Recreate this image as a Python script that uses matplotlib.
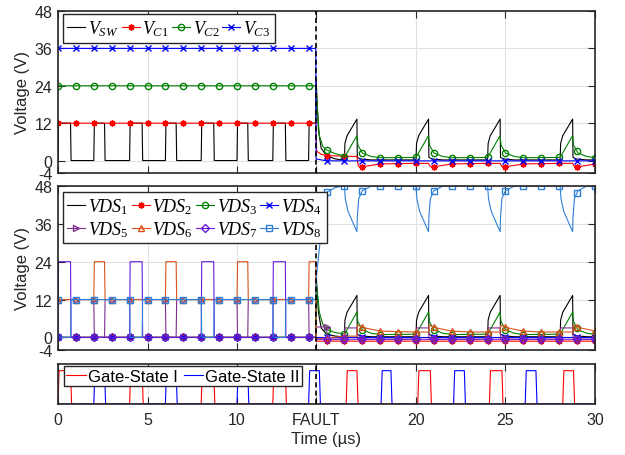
import numpy as np
import matplotlib.pyplot as plt

plt.rcParams['font.family'] = 'Liberation Sans'
plt.rcParams['mathtext.fontset'] = 'custom'
plt.rcParams['mathtext.it'] = 'Liberation Serif:italic'
plt.rcParams['mathtext.rm'] = 'Liberation Serif'
plt.rcParams['axes.unicode_minus'] = False

## Time axis ------------------------------------------------------------------
t_fault = 14.4  # us
t_end = 30.0
xtick_pos = [0, 5, 10, t_fault, 20, 25, 30]
xtick_lbl = ['0', '5', '10', 'FAULT', '20', '25', '30']
ytick_pos = [-4, 0, 12, 24, 36, 48]

## Gate pulses [us] -------------------------------------------------------------
gate1_on = [0.0, 4.0, 8.0, 12.0, 16.1, 20.1, 24.1, 28.2]
gate1_off = [0.7, 4.7, 8.7, 12.7, 16.7, 20.8, 24.8, 28.8]
gate2_on = [2.0, 6.0, 10.0, 14.0, 18.05, 22.1, 26.1]
gate2_off = [2.6, 6.6, 10.6, 14.6, 18.6, 22.7, 26.7]

## Post-fault spikes (start times + shape) --------------------------------------
spike_t = [16.0, 20.0, 24.0, 28.05]
sw_dt = [0.0, 0.03, 0.15, 0.7, 0.72, 0.9, 1.5]
sw_v = [0.2, 5.5, 8.0, 13.3, 1.0, 0.5, 0.2]
c2_dt = [0.0, 0.7, 0.75, 1.0, 1.5, 2.0]
c2_v = [1.0, 8.0, 5.0, 2.4, 1.3, 0.9]
c1_dt = [0.0, 0.7, 0.78, 1.0, 2.0]
c1_v = [-0.9, -0.9, -1.8, -2.0, -1.1]
d8_dt = [0.0, 0.05, 0.2, 0.7, 0.72, 0.8, 1.0, 1.5]
d8_v = [48.0, 44.0, 40.0, 33.5, 38.0, 44.0, 46.5, 48.0]
d5_dt = [0.0, 0.03, 0.7, 0.73]
d5_v = [-0.6, 3.0, 3.0, -0.6]
d6_dt = [0.0, 0.7, 0.73, 1.3, 2.0, 3.0]
d6_v = [1.7, 1.7, 3.8, 2.8, 2.0, 1.7]

## Fault transients (t, v) --------------------------------------------------------
sw_fault = ([14.42, 14.55, 14.7, 15.0, 15.5, 15.9], [26.0, 10.0, 4.0, 1.5, 0.5, 0.2])
c1_fault = ([14.45, 14.7, 15.0, 16.0, 16.7, 16.78, 17.0, 18.0, 19.9],
            [3.0, 2.0, 1.6, 1.4, 1.3, -1.8, -2.0, -1.1, -0.9])
c2_fault = ([14.42, 14.6, 14.8, 15.0, 15.5, 15.9], [22.0, 8.0, 4.5, 3.4, 2.2, 1.6])
c3_fault = ([14.42, 15.0, 30.0], [0.5, -0.1, -0.1])
d1_fault = ([14.42, 14.55, 14.7, 15.0, 15.5, 15.9], [20.0, 8.0, 3.0, 1.0, 0.4, 0.2])
d2_fault = ([14.42, 30.0], [-1.2, -1.2])
d3_fault = ([14.42, 14.6, 14.8, 15.0, 15.5, 15.9], [18.0, 8.0, 4.0, 2.5, 1.5, 1.2])
d4_fault = ([14.42, 30.0], [0.0, 0.0])
d5_fault = ([14.42, 15.0, 15.05, 15.9], [3.3, 3.3, -0.6, -0.6])
d6_fault = ([14.42, 16.0, 16.7, 16.73, 17.3, 18.0, 19.9], [-0.5, 0.4, 0.4, 3.8, 2.8, 2.0, 1.7])
d7_fault = ([14.42, 30.0], [-0.6, -0.6])
d8_fault = ([14.45, 14.9, 15.0, 15.5, 15.9], [20.0, 44.0, 46.0, 47.5, 48.0])


def steps(on, off, lo, hi, t1, edge=0.03):
    """ Square wave from pulse edges, cut at t1 """
    t, v = [0.0], [lo]
    for a, b in zip(on, off):
        if a >= t1:
            break
        t += [a, a + edge]
        v += [lo, hi]
        if b >= t1:
            t.append(t1)
            v.append(hi)
            return t, v
        t += [b, b + edge]
        v += [hi, lo]
    t.append(t1)
    v.append(lo)
    return t, v


def post(pre, fault, starts=(), dt=(), dv=()):
    """ Join pre-fault wave, fault transient and repeated spikes """
    t = list(pre[0]) + list(fault[0])
    v = list(pre[1]) + list(fault[1])
    for s in starts:
        t += [s + d for d in dt]
        v += list(dv)
    if t[-1] < t_end:
        t.append(t_end)
        v.append(v[-1])
    return np.array(t), np.array(v)


def marked(ax, t, v, **kw):
    """ Plot with markers every 1 us like the scope export """
    tm = np.arange(0, 31, 1.0)
    vm = np.interp(tm, t, v)
    tt = np.concatenate([t, tm])
    vv = np.concatenate([v, vm])
    order = np.argsort(tt, kind='stable')
    idx = list(np.where(order >= len(t))[0])
    return ax.plot(tt[order], vv[order], markevery=idx, **kw)[0]


def box(leg):
    leg.get_frame().set_edgecolor(dark)
    leg.get_frame().set_linewidth(1.0)
    leg.get_frame().set_alpha(1)


both_on = sorted(gate1_on[:4] + gate2_on[:4])
both_off = sorted(gate1_off[:4] + gate2_off[:4])

## Top panel data
vsw = post(steps(both_on, both_off, 0, 12, t_fault), sw_fault, spike_t, sw_dt, sw_v)
vc1 = post(([0, t_fault], [12, 12]), c1_fault, spike_t[1:], c1_dt, c1_v)
vc2 = post(([0, t_fault], [24, 24]), c2_fault, spike_t, c2_dt, c2_v)
vc3 = post(([0, t_fault], [36, 36]), c3_fault)

## Middle panel data
vds1 = post(([0, t_fault], [0, 0]), d1_fault, spike_t, sw_dt, sw_v)
vds2 = post(([0, t_fault], [0, 0]), d2_fault)
vds3 = post(([0, t_fault], [0, 0]), d3_fault, spike_t, c2_dt, c2_v)
vds4 = post(([0, t_fault], [0, 0]), d4_fault)
vds5 = post(steps(gate2_on, gate2_off, 12, 0, t_fault), d5_fault, spike_t, d5_dt, d5_v)
vds6 = post(steps(gate2_on, gate2_off, 12, 24, t_fault), d6_fault, spike_t[1:], d6_dt, d6_v)
vds7 = post(steps(gate1_on, gate1_off, 0, 24, t_fault), d7_fault)
vds8 = post(steps(gate1_on, gate1_off, 12, 0, t_fault), d8_fault, spike_t, d8_dt, d8_v)

## Bottom panel data
g1 = steps(gate1_on, gate1_off, 0, 1, t_end, edge=0.06)
g2 = steps(gate2_on, gate2_off, 0, 1, t_end, edge=0.06)

## Figure -------------------------------------------------------------------------
fig = plt.figure(figsize=(6.25, 4.56), dpi=100)
L, W = 58 / 625, 537 / 625
ax1 = fig.add_axes([L, 1 - 174 / 456, W, 162 / 456])
ax2 = fig.add_axes([L, 1 - 351 / 456, W, 164 / 456])
ax3 = fig.add_axes([L, 1 - 405 / 456, W, 40 / 456])

dark = '#262626'
for ax in (ax1, ax2, ax3):
    ax.set_xlim(0, t_end)
    ax.set_xticks(xtick_pos)
    ax.tick_params(direction='in', top=True, right=True, length=5, width=0.8,
                   colors=dark, labelsize=11.5, pad=4)
    ax.tick_params(axis='x', pad=6)
    ax.grid(True, color='#e0e0e0', lw=0.8)
    ax.set_axisbelow(True)
    for s in ax.spines.values():
        s.set_linewidth(1.2)
        s.set_color(dark)
    ax.axvline(t_fault, color='k', ls=(0, (3, 2)), lw=1.2, zorder=5)

for ax in (ax1, ax2):
    ax.set_ylim(-4, 48)
    ax.set_yticks(ytick_pos)
    ax.set_xticklabels([])
    ax.set_ylabel('Voltage (V)', fontsize=12, color=dark)
    ax.yaxis.set_label_coords(-0.052, 0.5)

lw = 0.8
ms = 4.5
star = (8, 2, 0)
green = '#008000'
leg_kw = dict(loc='upper left', ncol=4, fontsize=13, handlelength=1.0, handletextpad=0.15,
              columnspacing=0.15, borderpad=0.25, borderaxespad=0, frameon=True,
              fancybox=False)

# top
h = []
h.append(ax1.plot(*vsw, color='k', lw=lw, label=r'$V_{\mathit{SW}}$')[0])
h.append(marked(ax1, *vc1, color='r', lw=lw, marker=star, ms=ms, label=r'$V_{\mathit{C1}}$'))
h.append(marked(ax1, *vc2, color=green, lw=lw, marker='o', ms=ms, mfc='none', label=r'$V_{\mathit{C2}}$'))
h.append(marked(ax1, *vc3, color='b', lw=lw, marker='x', ms=ms, label=r'$V_{\mathit{C3}}$'))
box(ax1.legend(handles=h, bbox_to_anchor=(0.009, 0.981), **leg_kw))

# middle
vds = [vds1, vds2, vds3, vds4, vds5, vds6, vds7, vds8]
cols = ['k', 'r', green, 'b', '#7E2F8E', '#D95319', '#6A1BD8', '#2F80D8']
mks = [None, star, 'o', 'x', '>', '^', 'D', 's']
h2 = []
for i in range(8):
    kw = dict(color=cols[i], lw=lw, label=r'$\mathit{VDS}_{\mathit{%d}}$' % (i + 1))
    if mks[i] is None:
        h2.append(ax2.plot(*vds[i], **kw)[0])
    else:
        fc = cols[i] if mks[i] in (star, 'x') else 'none'
        h2.append(marked(ax2, *vds[i], marker=mks[i], ms=ms, mfc=fc, **kw))
h2 = [h2[0], h2[4], h2[1], h2[5], h2[2], h2[6], h2[3], h2[7]]
box(ax2.legend(handles=h2, bbox_to_anchor=(0.009, 0.963), labelspacing=0.15, **leg_kw))

# bottom
ax3.plot(*g1, color='r', lw=lw, label='Gate-State I')
ax3.plot(*g2, color='b', lw=lw, label='Gate-State II')
ax3.set_ylim(0, 1.2)
ax3.set_yticks([])
ax3.set_xticklabels(xtick_lbl)
ax3.set_xlabel('Time (\u00b5s)', fontsize=12, color=dark, labelpad=3)
box(ax3.legend(loc='upper left', bbox_to_anchor=(0.011, 0.95), ncol=2, fontsize=12,
               handlelength=1.15, handletextpad=0.15, columnspacing=0.35, borderpad=0.15,
               borderaxespad=0, frameon=True, fancybox=False))

fig.savefig('out.png', dpi=100)
